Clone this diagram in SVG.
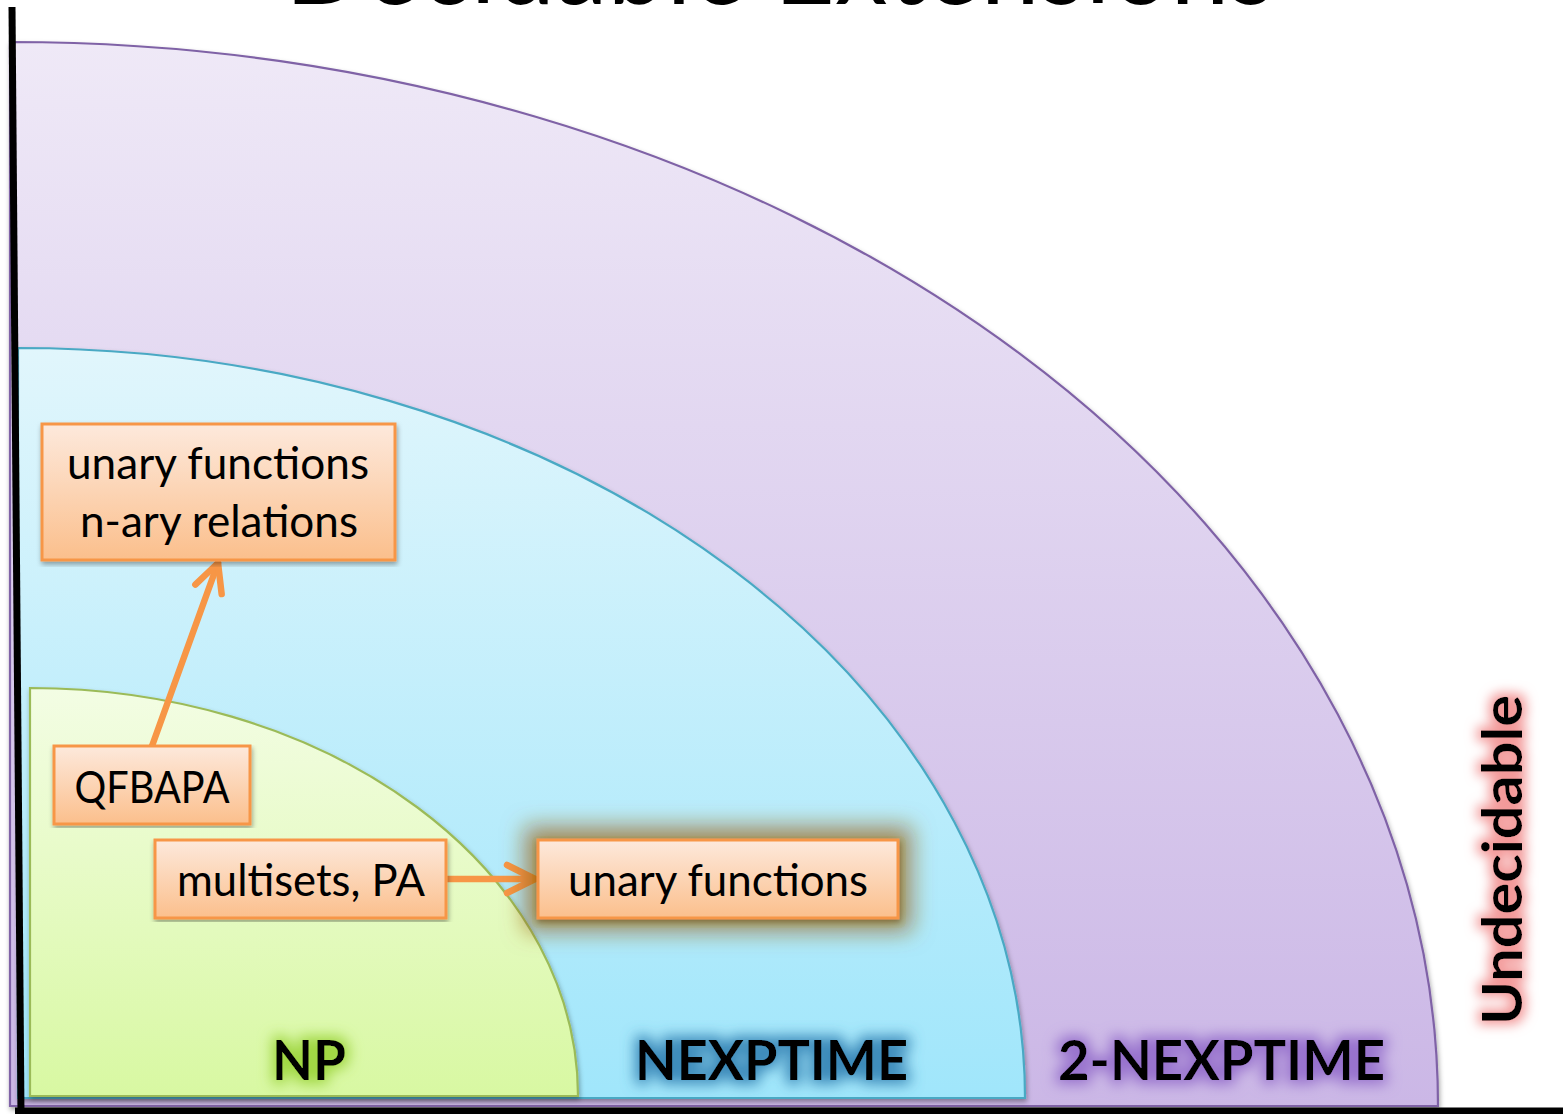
<svg xmlns="http://www.w3.org/2000/svg" width="1563" height="1114" viewBox="0 0 1563 1114">
  <defs>
    <linearGradient id="gPurple" x1="0" y1="0" x2="0" y2="1">
      <stop offset="0" stop-color="#efe9f7"/>
      <stop offset="1" stop-color="#cbb7e6"/>
    </linearGradient>
    <linearGradient id="gBlue" x1="0" y1="0" x2="0" y2="1">
      <stop offset="0" stop-color="#e1f6fc"/>
      <stop offset="1" stop-color="#a0e6fb"/>
    </linearGradient>
    <linearGradient id="gGreen" x1="0" y1="0" x2="0" y2="1">
      <stop offset="0" stop-color="#f3fde4"/>
      <stop offset="1" stop-color="#d8f8a2"/>
    </linearGradient>
    <linearGradient id="gBox" x1="0" y1="0" x2="0" y2="1">
      <stop offset="0" stop-color="#fde9dc"/>
      <stop offset="1" stop-color="#fbbf8c"/>
    </linearGradient>
    <filter id="shade" x="-5%" y="-5%" width="110%" height="110%">
      <feGaussianBlur in="SourceAlpha" stdDeviation="2.5"/>
      <feOffset dx="1" dy="3" result="b"/>
      <feFlood flood-color="#000" flood-opacity="0.35"/>
      <feComposite in2="b" operator="in"/>
      <feMerge><feMergeNode/><feMergeNode in="SourceGraphic"/></feMerge>
    </filter>
    <filter id="halo" x="-25%" y="-80%" width="150%" height="260%">
      <feMorphology in="SourceAlpha" operator="dilate" radius="12" result="d"/>
      <feGaussianBlur in="d" stdDeviation="11" result="b"/>
      <feFlood flood-color="#9a6218" flood-opacity="0.7"/>
      <feComposite in2="b" operator="in" result="g"/>
      <feGaussianBlur in="SourceAlpha" stdDeviation="2.5"/>
      <feOffset dx="1" dy="3" result="s"/>
      <feFlood flood-color="#000" flood-opacity="0.35"/>
      <feComposite in2="s" operator="in" result="sh"/>
      <feMerge><feMergeNode in="g"/><feMergeNode in="sh"/><feMergeNode in="SourceGraphic"/></feMerge>
    </filter>
    <filter id="glowGreen" x="-40%" y="-80%" width="180%" height="260%">
      <feMorphology in="SourceAlpha" operator="dilate" radius="4" result="d"/>
      <feGaussianBlur in="d" stdDeviation="7" result="b"/>
      <feFlood flood-color="#9fd640"/>
      <feComposite in2="b" operator="in"/>
      <feMerge><feMergeNode/><feMergeNode in="SourceGraphic"/></feMerge>
    </filter>
    <filter id="glowBlue" x="-30%" y="-80%" width="160%" height="260%">
      <feMorphology in="SourceAlpha" operator="dilate" radius="4" result="d"/>
      <feGaussianBlur in="d" stdDeviation="7" result="b"/>
      <feFlood flood-color="#3a88b8"/>
      <feComposite in2="b" operator="in"/>
      <feMerge><feMergeNode/><feMergeNode in="SourceGraphic"/></feMerge>
    </filter>
    <filter id="glowPurple" x="-30%" y="-80%" width="160%" height="260%">
      <feMorphology in="SourceAlpha" operator="dilate" radius="4" result="d"/>
      <feGaussianBlur in="d" stdDeviation="7" result="b"/>
      <feFlood flood-color="#9670cc"/>
      <feComposite in2="b" operator="in"/>
      <feMerge><feMergeNode/><feMergeNode in="SourceGraphic"/></feMerge>
    </filter>
    <filter id="glowRed" x="-30%" y="-80%" width="160%" height="260%">
      <feMorphology in="SourceAlpha" operator="dilate" radius="4" result="d"/>
      <feGaussianBlur in="d" stdDeviation="6" result="b"/>
      <feFlood flood-color="#f39a9a"/>
      <feComposite in2="b" operator="in"/>
      <feMerge><feMergeNode/><feMergeNode in="SourceGraphic"/></feMerge>
    </filter>
    <marker id="chev" viewBox="-34 -18 38 36" refX="0" refY="0" markerUnits="userSpaceOnUse" markerWidth="38" markerHeight="36" orient="auto" overflow="visible">
      <path d="M-28,-14 L0,0 L-28,14" fill="none" stroke="#f79646" stroke-width="6.5" stroke-linecap="round" stroke-linejoin="round"/>
    </marker>
    <style>
      .region { filter: url(#shade); stroke-width: 2.2; }
      .box { fill: url(#gBox); stroke: #f79646; stroke-width: 3; }
      .lbl { font-family: "Lato", "Liberation Sans", sans-serif; font-size: 44px; fill: #000; text-anchor: middle; }
      .cls { font-family: "Lato", "Liberation Sans", sans-serif; font-weight: bold; font-size: 56px; fill: #000; }
      .link { fill: none; stroke: #f79646; stroke-width: 6.5; stroke-linecap: round; }
    </style>
  </defs>

  <rect width="1563" height="1114" fill="#fff"/>

  <!-- page title, mostly above the visible area -->
  <text x="780" y="4" font-family="Lato, 'Liberation Sans', sans-serif" font-size="112" text-anchor="middle" textLength="990" lengthAdjust="spacingAndGlyphs" fill="#000">Decidable Extensions</text>

  <!-- nested complexity regions -->
  <g id="region-2nexptime">
    <path class="region" d="M10,1106 L10,42 A1428,1064 0 0 1 1438,1106 Z" fill="url(#gPurple)" stroke="#7f62a6"/>
  </g>
  <g id="region-nexptime">
    <path class="region" d="M18,1098 L18,348 A1007,750 0 0 1 1025,1098 Z" fill="url(#gBlue)" stroke="#4aa9c4"/>
  </g>
  <g id="region-np">
    <path class="region" d="M30,1096 L30,688 A548,408 0 0 1 578,1096 Z" fill="url(#gGreen)" stroke="#9bbb59"/>
  </g>

  <!-- axes -->
  <g id="axes" stroke="#000" stroke-width="7" stroke-linecap="butt">
    <line x1="12" y1="7" x2="21" y2="1114"/>
    <line x1="15" y1="1111" x2="1563" y2="1111"/>
  </g>

  <!-- class labels -->
  <g id="label-np"><text class="cls" x="272" y="1080" textLength="74" lengthAdjust="spacingAndGlyphs" filter="url(#glowGreen)">NP</text></g>
  <g id="label-nexptime"><text class="cls" x="635" y="1080" textLength="273" lengthAdjust="spacingAndGlyphs" filter="url(#glowBlue)">NEXPTIME</text></g>
  <g id="label-2nexptime"><text class="cls" x="1058" y="1080" textLength="327" lengthAdjust="spacingAndGlyphs" filter="url(#glowPurple)">2-NEXPTIME</text></g>
  <g id="label-undecidable"><text class="cls" transform="translate(1522,1025) rotate(-90)" x="0" y="0" textLength="330" lengthAdjust="spacingAndGlyphs" filter="url(#glowRed)">Undecidable</text></g>

  <!-- connectors -->
  <g id="connectors">
    <line class="link" x1="152" y1="746" x2="218" y2="563" marker-end="url(#chev)"/>
    <line class="link" x1="446" y1="879" x2="535" y2="879" marker-end="url(#chev)"/>
  </g>

  <!-- logic fragments -->
  <g id="node-unary-nary">
    <rect class="box" x="42" y="424" width="353" height="136" filter="url(#shade)"/>
    <text class="lbl" x="218" y="479" textLength="302" lengthAdjust="spacingAndGlyphs">unary functions</text>
    <text class="lbl" x="219" y="537" textLength="278" lengthAdjust="spacingAndGlyphs">n-ary relations</text>
  </g>
  <g id="node-qfbapa">
    <rect class="box" x="54" y="746" width="196" height="78" filter="url(#shade)"/>
    <text class="lbl" x="152" y="803" textLength="155" lengthAdjust="spacingAndGlyphs">QFBAPA</text>
  </g>
  <g id="node-multisets">
    <rect class="box" x="155" y="840" width="291" height="78" filter="url(#shade)"/>
    <text class="lbl" x="301" y="896" textLength="248" lengthAdjust="spacingAndGlyphs">multisets, PA</text>
  </g>
  <g id="node-unary">
    <rect class="box" x="538" y="840" width="360" height="78" filter="url(#halo)"/>
    <text class="lbl" x="718" y="896" textLength="300" lengthAdjust="spacingAndGlyphs">unary functions</text>
  </g>
</svg>
